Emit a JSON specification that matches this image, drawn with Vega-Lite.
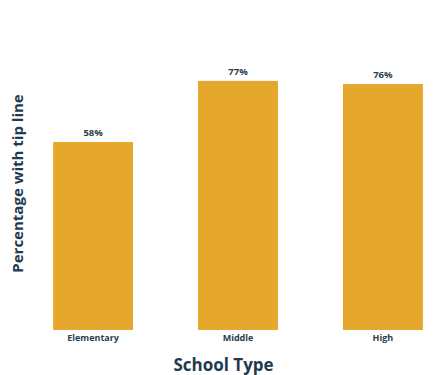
{
  "$schema": "https://vega.github.io/schema/vega-lite/v6.json",
  "autosize": "none",
  "padding": {"left": 40, "top": 6, "right": 12, "bottom": 45},
  "width": 396,
  "height": 324,
  "background": "white",
  "config": {"view": {"stroke": null}, "font": "Open Sans"},
  "data": {"values": [
    {"type": "Elementary", "pct": 0.58},
    {"type": "Middle", "pct": 0.77},
    {"type": "High", "pct": 0.76}
  ]},
  "encoding": {
    "x": {"field": "type", "type": "nominal", "sort": null,
      "scale": {"paddingInner": 0.447, "paddingOuter": 0.09},
      "axis": {"title": "School Type", "labelAngle": 0, "domain": false, "ticks": false,
        "labelPadding": 3, "labelFontSize": 9, "labelFontWeight": "bold", "labelColor": "#2B3E50",
        "titleFontSize": 17, "titleFontWeight": "bold", "titleColor": "#1F3A4F",
        "titleBaseline": "alphabetic", "titleY": 40, "titleX": 183}},
    "y": {"field": "pct", "type": "quantitative", "scale": {"domain": [0, 1]},
      "axis": {"title": "Percentage with tip line", "labels": false, "ticks": false, "domain": false, "grid": false,
        "titleFontSize": 15, "titleFontWeight": "bold", "titleColor": "#1F3A4F",
        "titleAngle": -90, "titleBaseline": "alphabetic", "titleAlign": "center", "titleX": -18, "titleY": 177}}
  },
  "layer": [
    {"mark": {"type": "bar", "color": "#E6A82C", "cornerRadius": 1}},
    {"mark": {"type": "text", "baseline": "bottom", "dy": -4, "fontSize": 9.5, "fontWeight": "bold", "color": "#2B3E50"},
     "encoding": {"text": {"field": "pct", "type": "quantitative", "format": ".0%"}}}
  ]
}
